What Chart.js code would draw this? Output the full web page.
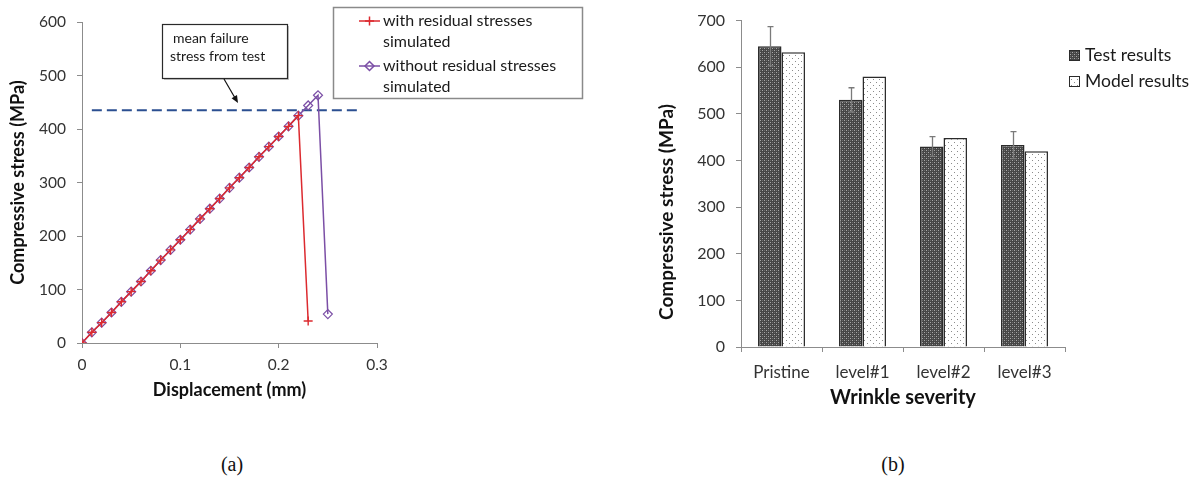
<!DOCTYPE html>
<html>
<head>
<meta charset="utf-8">
<script src="https://cdn.jsdelivr.net/npm/chart.js@4.4.1/dist/chart.umd.min.js"></script>
<style>
  html, body { margin: 0; padding: 0; background: #fff; }
  body { width: 1199px; height: 485px; position: relative; overflow: hidden; }
  #wrapA { position: absolute; left: 0; top: 0; width: 620px; height: 420px; }
  #wrapB { position: absolute; left: 620px; top: 0; width: 579px; height: 420px; }
  .cap { position: absolute; top: 453px; width: 60px; text-align: center;
         font-family: 'Liberation Serif', 'DejaVu Serif', serif; font-size: 20px; color: #111; }
</style>
</head>
<body>
<div id="wrapA"><canvas id="chartA" width="620" height="420"></canvas></div>
<div id="wrapB"><canvas id="chartB" width="579" height="420"></canvas></div>
<div class="cap" style="left:202px">(a)</div>
<div class="cap" style="left:863px">(b)</div>

<script>
// ---- (a) stress-displacement curves ----
const displacement = [0, 0.01, 0.02, 0.03, 0.04, 0.05, 0.06, 0.07, 0.08, 0.09, 0.10, 0.11, 0.12,
                      0.13, 0.14, 0.15, 0.16, 0.17, 0.18, 0.19, 0.20, 0.21, 0.22, 0.23, 0.24, 0.25];
const stressWithResidual = [0, 20, 38, 57, 77, 96, 115, 135, 155, 174, 193, 212, 232,
                            251, 270, 290, 309, 328, 348, 367, 386, 405, 425, 41];
const stressWithoutResidual = [0, 20, 38, 57, 77, 96, 115, 135, 155, 174, 193, 212, 232,
                               251, 270, 290, 309, 328, 348, 367, 386, 405, 425, 444, 463, 54];
const meanFailureStress = 435;
const meanLineSpan = [0.01, 0.28];
const dispTicks = [0, 0.1, 0.2, 0.3];
const dispTickLabels = ['0', '0.1', '0.2', '0.3'];
const stressTicksA = [0, 100, 200, 300, 400, 500, 600];

// ---- (b) wrinkle severity bars ----
const severity = ['Pristine', 'level#1', 'level#2', 'level#3'];
const testResults = [645, 530, 430, 433];
const testErrors = [42, 26, 21, 29];
const modelResults = [632, 580, 448, 420];
const stressTicksB = [0, 100, 200, 300, 400, 500, 600, 700];

const FONT = 'Lato, "Open Sans", sans-serif';
const AXIS_GREY = '#8c8c8c';
const TICK_TXT = '#333';
const TITLE_TXT = '#111';
const RED = '#dc2a2f';
const PURPLE = '#7b4fa6';
const NAVY = '#2b4f91';

function toPoints(xs, ys) { return ys.map((y, i) => ({ x: xs[i], y })); }

// ===================== chart (a) =====================
const annotationPlugin = {
  id: 'annotA',
  afterDraw(chart) {
    const ctx = chart.ctx;
    ctx.save();
    // callout box
    ctx.fillStyle = '#c4c4c4';
    ctx.fillRect(164, 26, 125, 54);
    ctx.fillStyle = '#fff';
    ctx.fillRect(162, 24, 125, 54);
    ctx.strokeStyle = '#2a2a2a';
    ctx.lineWidth = 1.2;
    ctx.strokeRect(162.5, 24.5, 125, 54);
    ctx.fillStyle = '#1a1a1a';
    ctx.font = '14px ' + FONT;
    ctx.textBaseline = 'middle';
    ctx.textAlign = 'left';
    ctx.fillText('mean failure', 173, 38);
    ctx.fillText('stress from test', 170, 56);
    // arrow towards the dashed line
    const x0 = 224, y0 = 79, x1 = 238, y1 = 103;
    const ang = Math.atan2(y1 - y0, x1 - x0);
    ctx.strokeStyle = '#111';
    ctx.lineWidth = 1.2;
    ctx.beginPath(); ctx.moveTo(x0, y0); ctx.lineTo(x1 - 5 * Math.cos(ang), y1 - 5 * Math.sin(ang)); ctx.stroke();
    ctx.fillStyle = '#111';
    ctx.beginPath();
    ctx.moveTo(x1, y1);
    ctx.lineTo(x1 - 8 * Math.cos(ang - 0.4), y1 - 8 * Math.sin(ang - 0.4));
    ctx.lineTo(x1 - 8 * Math.cos(ang + 0.4), y1 - 8 * Math.sin(ang + 0.4));
    ctx.closePath(); ctx.fill();

    // legend
    ctx.strokeStyle = '#8a8a8a';
    ctx.lineWidth = 1.5;
    ctx.strokeRect(333.5, 7.5, 249, 91);
    const items = [
      { ds: chart.data.datasets[0], y: 21, lines: ['with residual stresses', 'simulated'] },
      { ds: chart.data.datasets[1], y: 66, lines: ['without residual stresses', 'simulated'] }
    ];
    items.forEach(it => {
      ctx.strokeStyle = it.ds.borderColor;
      ctx.lineWidth = 1.5;
      ctx.beginPath(); ctx.moveTo(359, it.y); ctx.lineTo(380, it.y); ctx.stroke();
      ctx.fillStyle = it.ds.pointBackgroundColor;
      ctx.strokeStyle = it.ds.pointBorderColor;
      Chart.helpers.drawPoint(ctx, {
        pointStyle: it.ds.pointStyle, radius: it.ds.pointRadius,
        borderWidth: it.ds.pointBorderWidth, rotation: 0
      }, 369.5, it.y);
      ctx.fillStyle = '#1a1a1a';
      ctx.font = '16px ' + FONT;
      ctx.textAlign = 'left';
      ctx.textBaseline = 'middle';
      ctx.fillText(it.lines[0], 383, it.y);
      ctx.fillText(it.lines[1], 383, it.y + 21);
    });
    ctx.restore();
  }
};

new Chart(document.getElementById('chartA'), {
  type: 'line',
  data: {
    datasets: [
      {
        label: 'with residual stresses simulated',
        data: toPoints(displacement, stressWithResidual),
        borderColor: RED, borderWidth: 1.5,
        pointStyle: 'cross', pointRadius: 4.5, pointBorderWidth: 1.4,
        pointBorderColor: RED, pointBackgroundColor: RED,
        tension: 0
      },
      {
        label: 'without residual stresses simulated',
        data: toPoints(displacement, stressWithoutResidual),
        borderColor: PURPLE, borderWidth: 1.5,
        pointStyle: 'rectRot', pointRadius: 4.5, pointBorderWidth: 1.2,
        pointBorderColor: PURPLE, pointBackgroundColor: 'rgba(255,255,255,0)',
        tension: 0
      },
      {
        label: 'mean failure stress from test',
        data: meanLineSpan.map(x => ({ x, y: meanFailureStress })),
        borderColor: NAVY, borderWidth: 2, borderDash: [10, 5],
        pointRadius: 0, tension: 0
      }
    ]
  },
  options: {
    responsive: false,
    animation: false,
    events: [],
    layout: { padding: { left: 0, right: 243, top: 22, bottom: 0 } },
    plugins: { legend: { display: false }, tooltip: { enabled: false } },
    scales: {
      x: {
        type: 'linear', min: 0, max: 0.3,
        afterBuildTicks: s => { s.ticks = dispTicks.map(v => ({ value: v })); },
        afterFit: s => { s.height = 77; },
        ticks: {
          callback: (v, i) => dispTickLabels[i],
          autoSkip: false, maxRotation: 0, padding: 8,
          font: { family: FONT, size: 15.5 }, color: TICK_TXT
        },
        grid: { drawOnChartArea: false, drawTicks: true, tickLength: 5, color: AXIS_GREY },
        border: { color: AXIS_GREY, width: 1 },
        title: {
          display: true, text: 'Displacement (mm)', color: TITLE_TXT,
          font: { family: FONT, size: 18, weight: 'bold' }, padding: { top: 0, bottom: 19 }
        }
      },
      y: {
        type: 'linear', min: 0, max: 600,
        afterBuildTicks: s => { s.ticks = stressTicksA.map(v => ({ value: v })); },
        afterFit: s => { s.width = 82; },
        ticks: { padding: 11, font: { family: FONT, size: 15.5 }, color: TICK_TXT },
        grid: { drawOnChartArea: false, drawTicks: true, tickLength: 5, color: AXIS_GREY },
        border: { color: AXIS_GREY, width: 1 },
        title: {
          display: true, text: 'Compressive stress (MPa)', color: TITLE_TXT,
          font: { family: FONT, size: 18, weight: 'bold' }, padding: { top: 7, bottom: 0 }
        }
      }
    }
  },
  plugins: [annotationPlugin]
});

// ===================== chart (b) =====================
const canvasB = document.getElementById('chartB');
const ctxB = canvasB.getContext('2d');

function makePattern(size, bg, dots) {
  const tile = document.createElement('canvas');
  tile.width = size; tile.height = size;
  const g = tile.getContext('2d');
  g.fillStyle = bg; g.fillRect(0, 0, size, size);
  dots.forEach(([x, y, c]) => { g.fillStyle = c; g.fillRect(x, y, 1, 1); });
  return ctxB.createPattern(tile, 'repeat');
}
const darkHatch = makePattern(4, '#464646', [[0, 0, '#a8a8a8'], [2, 2, '#a8a8a8'], [2, 0, '#6a6a6a'], [0, 2, '#6a6a6a']]);
const lightDots = makePattern(6, '#ffffff', [[1, 1, '#8c8c8c'], [4, 4, '#8c8c8c']]);

const errorBarPlugin = {
  id: 'errorBars',
  afterDatasetsDraw(chart) {
    const ctx = chart.ctx;
    const yScale = chart.scales.y;
    const meta = chart.getDatasetMeta(0);
    ctx.save();
    ctx.strokeStyle = '#7a7a7a';
    ctx.lineWidth = 1.3;
    meta.data.forEach((bar, i) => {
      const v = testResults[i], e = testErrors[i];
      const x = Math.round(bar.x) + 0.5;
      const yTop = yScale.getPixelForValue(v + e);
      const yBot = yScale.getPixelForValue(v - e);
      ctx.beginPath();
      ctx.moveTo(x, yTop); ctx.lineTo(x, yBot);
      ctx.moveTo(x - 3, yTop); ctx.lineTo(x + 3, yTop);
      ctx.moveTo(x - 3, yBot); ctx.lineTo(x + 3, yBot);
      ctx.stroke();
    });
    ctx.restore();
  },
  afterDraw(chart) {
    const ctx = chart.ctx;
    ctx.save();
    // value-axis title, set a little below the middle of the plot
    ctx.translate(47, 212);
    ctx.rotate(-Math.PI / 2);
    ctx.fillStyle = TITLE_TXT;
    ctx.font = 'bold 19px ' + FONT;
    ctx.textAlign = 'center';
    ctx.textBaseline = 'middle';
    ctx.fillText('Compressive stress (MPa)', 0, 0);
    ctx.restore();

    ctx.save();
    const rows = [{ ds: chart.data.datasets[0], y: 55 }, { ds: chart.data.datasets[1], y: 81 }];
    rows.forEach(r => {
      ctx.fillStyle = r.ds.backgroundColor;
      ctx.fillRect(449, r.y - 5, 11, 11);
      ctx.strokeStyle = '#2b2b2b';
      ctx.lineWidth = 1;
      ctx.strokeRect(449.5, r.y - 4.5, 10, 10);
      ctx.fillStyle = '#1a1a1a';
      ctx.font = '17.5px ' + FONT;
      ctx.textAlign = 'left';
      ctx.textBaseline = 'middle';
      ctx.fillText(r.ds.label, 465, r.y);
    });
    ctx.restore();
  }
};

new Chart(canvasB, {
  type: 'bar',
  data: {
    labels: severity,
    datasets: [
      {
        label: 'Test results', data: testResults,
        backgroundColor: darkHatch, borderColor: '#2b2b2b', borderWidth: 1.5,
        categoryPercentage: 0.58, barPercentage: 1
      },
      {
        label: 'Model results', data: modelResults,
        backgroundColor: lightDots, borderColor: '#2b2b2b', borderWidth: 1.5,
        categoryPercentage: 0.58, barPercentage: 1
      }
    ]
  },
  options: {
    responsive: false,
    animation: false,
    events: [],
    layout: { padding: { left: 0, right: 134, top: 14, bottom: 0 } },
    plugins: { legend: { display: false }, tooltip: { enabled: false } },
    scales: {
      x: {
        afterFit: s => { s.height = 73; },
        ticks: { padding: 10, font: { family: FONT, size: 17 }, color: TICK_TXT, maxRotation: 0 },
        grid: { drawOnChartArea: false, drawTicks: true, tickLength: 5, color: AXIS_GREY, offset: true },
        border: { color: AXIS_GREY, width: 1 },
        title: {
          display: true, text: 'Wrinkle severity', color: TITLE_TXT,
          font: { family: FONT, size: 20, weight: 'bold' }, padding: { top: 0, bottom: 10 }
        }
      },
      y: {
        min: 0, max: 700,
        afterBuildTicks: s => { s.ticks = stressTicksB.map(v => ({ value: v })); },
        afterFit: s => { s.width = 121; },
        ticks: { padding: 11, font: { family: FONT, size: 16 }, color: TICK_TXT },
        grid: { drawOnChartArea: false, drawTicks: true, tickLength: 5, color: AXIS_GREY },
        border: { color: AXIS_GREY, width: 1 },
        title: { display: false }
      }
    }
  },
  plugins: [errorBarPlugin]
});
</script>
</body>
</html>
